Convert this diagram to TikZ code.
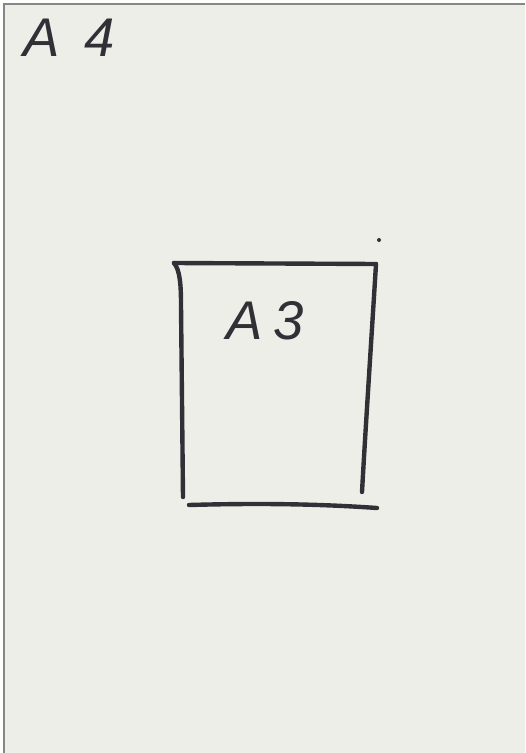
\documentclass[tikz,border=0pt]{standalone}
\usepackage{fontspec}
\newfontfamily\handfont{Liberation Sans}
\definecolor{paper}{RGB}{238,238,233}
\definecolor{scanedge}{RGB}{135,135,135}
\definecolor{marker}{RGB}{48,48,54}
\begin{document}
\begin{tikzpicture}[
    x=0.02cm, y=-0.02cm,
    pen/.style={draw=marker, line width=2.5pt, line cap=round, line join=round},
    hand/.style={text=marker, font=\handfont\itshape\fontsize{31}{31}\selectfont, inner sep=0pt, anchor=base west}
]
\useasboundingbox (0,0) rectangle (525,753);
\fill[white] (0,0) rectangle (525,753);
\fill[paper] (4,4) rectangle (525,753);
\draw[scanedge, line width=1.2pt] (4,753) -- (4,4) -- (525,4);
% sheet corners
\coordinate (tl) at (174,263);
\coordinate (tr) at (376,264);
\coordinate (bl) at (183,497);
\coordinate (br) at (362,492);
\coordinate (bbl) at (189,505);
\coordinate (bbr) at (377,508);
\draw[pen] (tl) -- (tr);
\draw[pen] (tl) .. controls (180,270) and (181,285) .. (181,305) -- (bl);
\draw[pen] (tr) .. controls (372,330) and (366,420) .. (br);
\draw[pen] (bbl) .. controls (260,503) and (320,504) .. (bbr);
\fill[marker] (379,240) circle (2);
% labels
\node[hand] (bigsheet) at (23,57) {A\hspace{0.45em}4};
\node[hand] (smallsheet) at (226,339) {A\hspace{0.2em}3};
\end{tikzpicture}
\end{document}
